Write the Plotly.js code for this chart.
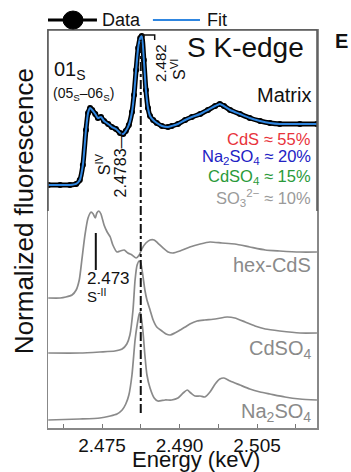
<!DOCTYPE html>
<html>
<head>
<meta charset="utf-8">
<script src="https://cdn.plot.ly/plotly-3.0.1.min.js"></script>
<style>html,body{margin:0;padding:0;background:#fff;}#chart{width:351px;height:472px;}</style>
</head>
<body>
<div id="chart"></div>
<script>
// ---- Data (energy in keV, normalized fluorescence with vertical offsets) ----
const matrixE = [2.4646,2.4669,2.4688,2.4700,2.4707,2.4713,2.4719,2.4723,2.4727,2.4731,2.4737,2.4742,2.4748,2.4754,2.4762,2.4769,2.4777,2.4785,2.4791,2.4796,2.4802,2.4808,2.4812,2.4816,2.4820,2.4824,2.4827,2.4831,2.4835,2.4839,2.4843,2.4849,2.4856,2.4866,2.4878,2.4885,2.4897,2.4911,2.4924,2.4940,2.4955,2.4969,2.4978,2.4986,2.4998,2.5017,2.5036,2.5056,2.5075,2.5094,2.5133,2.5166];
const matrixData = [6.106,6.106,6.106,6.131,6.231,6.608,7.487,7.915,8.040,7.990,7.889,7.789,7.814,7.714,7.638,7.563,7.513,7.412,7.387,7.462,7.613,7.940,8.367,8.995,9.548,9.799,9.849,9.246,8.492,8.040,7.839,7.739,7.663,7.588,7.563,7.588,7.638,7.739,7.814,7.889,7.990,8.090,8.141,8.090,7.990,7.889,7.789,7.714,7.663,7.638,7.638,7.638];
const matrixFit = [6.106,6.106,6.106,6.131,6.231,6.608,7.487,7.915,8.040,7.990,7.889,7.789,7.814,7.714,7.638,7.563,7.513,7.412,7.387,7.462,7.613,7.940,8.367,8.995,9.548,9.799,9.849,9.246,8.492,8.040,7.839,7.739,7.663,7.588,7.563,7.588,7.638,7.739,7.814,7.889,7.990,8.090,8.141,8.090,7.990,7.889,7.789,7.714,7.663,7.638,7.638,7.638];

const hexCdSE = [2.4646,2.4669,2.4680,2.4692,2.4700,2.4706,2.4711,2.4717,2.4723,2.4729,2.4733,2.4737,2.4740,2.4744,2.4748,2.4754,2.4760,2.4766,2.4771,2.4779,2.4785,2.4793,2.4800,2.4808,2.4816,2.4822,2.4827,2.4835,2.4843,2.4851,2.4858,2.4868,2.4878,2.4887,2.4901,2.4920,2.4940,2.4959,2.4982,2.5007,2.5036,2.5066,2.5094,2.5133,2.5166];
const hexCdS = [3.266,3.266,3.291,3.342,3.467,3.719,4.221,4.849,5.276,5.427,5.377,5.276,5.402,5.452,5.377,5.101,4.925,4.799,4.598,4.422,4.447,4.472,4.397,4.347,4.271,4.347,4.497,4.648,4.724,4.724,4.648,4.523,4.422,4.397,4.447,4.548,4.623,4.673,4.648,4.623,4.548,4.472,4.447,4.422,4.422];

const cdso4E = [2.4646,2.4707,2.4746,2.4775,2.4789,2.4798,2.4804,2.4810,2.4814,2.4818,2.4822,2.4825,2.4829,2.4833,2.4837,2.4843,2.4849,2.4856,2.4866,2.4874,2.4882,2.4891,2.4901,2.4911,2.4920,2.4934,2.4949,2.4969,2.4992,2.5007,2.5027,2.5046,2.5066,2.5094,2.5133,2.5166];
const cdso4 = [1.884,1.884,1.910,1.935,1.985,2.111,2.337,2.965,3.719,4.095,4.196,4.146,3.844,3.467,3.216,2.965,2.714,2.538,2.437,2.362,2.337,2.387,2.462,2.538,2.613,2.688,2.714,2.739,2.789,2.764,2.663,2.563,2.487,2.437,2.387,2.387];

const na2so4E = [2.4646,2.4707,2.4746,2.4766,2.4779,2.4789,2.4796,2.4802,2.4808,2.4814,2.4818,2.4822,2.4824,2.4825,2.4829,2.4833,2.4837,2.4843,2.4851,2.4858,2.4872,2.4885,2.4897,2.4907,2.4915,2.4922,2.4930,2.4940,2.4949,2.4959,2.4969,2.4978,2.4986,2.4998,2.5017,2.5036,2.5056,2.5075,2.5104,2.5133,2.5166];
const na2so4 = [0.201,0.226,0.251,0.302,0.352,0.452,0.603,0.829,1.332,2.211,2.588,2.864,2.915,2.864,2.462,1.834,1.332,1.005,0.754,0.678,0.704,0.704,0.754,0.879,0.955,0.879,0.804,0.804,0.779,0.905,1.106,1.231,1.256,1.181,1.080,0.980,0.905,0.854,0.779,0.729,0.704];

const tickVals = [2.475, 2.490, 2.505];
const tickText = ['2.475', '2.490', '2.505'];
const minorTickVals = [2.4675, 2.4825, 2.4975, 2.5125];
const whiteLineE = 2.4825;
const sIIE = 2.4738;
const seriesLabels = ['hex-CdS', 'CdSO<sub>4</sub>', 'Na<sub>2</sub>SO<sub>4</sub>'];
const compLabels = ['CdS ≈ 55%', 'Na<sub>2</sub>SO<sub>4</sub> ≈ 20%', 'CdSO<sub>4</sub> ≈ 15%', 'SO<sub>3</sub><sup>2−</sup> ≈ 10%'];
const compColors = ['#e8333b', '#2222c4', '#2a9a3a', '#9a9a9a'];

const FONT = 'Liberation Sans, Arial, Helvetica, sans-serif';
const grey = '#8a8a8a';

const traces = [
  {x: hexCdSE, y: hexCdS, mode: 'lines', line: {color: grey, width: 1.7, shape: 'spline', smoothing: 0.6}, showlegend: false},
  {x: cdso4E, y: cdso4, mode: 'lines', line: {color: grey, width: 1.7, shape: 'spline', smoothing: 0.6}, showlegend: false},
  {x: na2so4E, y: na2so4, mode: 'lines', line: {color: grey, width: 1.7, shape: 'spline', smoothing: 0.6}, showlegend: false},
  {x: matrixE, y: matrixData, mode: 'lines+markers', line: {color: '#000', width: 5, shape: 'spline', smoothing: 0.6}, marker: {color: '#000', size: 6}, showlegend: false},
  {x: matrixE, y: matrixFit, mode: 'lines', line: {color: '#2f86e0', width: 2, shape: 'spline', smoothing: 0.6}, showlegend: false}
];

const ann = [];
const A = (o) => ann.push(Object.assign({showarrow: false, xref: 'x', yref: 'y', xanchor: 'center', yanchor: 'middle', font: {family: FONT, size: 16, color: '#111'}}, o));

A({x: 2.5027, y: 9.57, text: 'S K-edge', font: {family: FONT, size: 28, color: '#111'}});
A({x: 2.4862, y: 9.17, text: '2.482', textangle: -90, font: {family: FONT, size: 15, color: '#111'}});
A({x: 2.4897, y: 9.02, text: 'S<sup>VI</sup>', textangle: -90, font: {family: FONT, size: 16, color: '#111'}});
A({x: 2.4653, y: 8.99, text: '01<sub>S</sub>', xanchor: 'left', font: {family: FONT, size: 20, color: '#111'}});
A({x: 2.4651, y: 8.40, text: '(05<sub>S</sub>–06<sub>S</sub>)', xanchor: 'left', font: {family: FONT, size: 14, color: '#111'}});
A({x: 2.5158, y: 8.37, text: 'Matrix', xanchor: 'right', font: {family: FONT, size: 20, color: '#111'}});
A({x: 2.4752, y: 6.63, text: 'S<sup>IV</sup>', textangle: -90, font: {family: FONT, size: 16, color: '#111'}});
A({x: 2.4785, y: 6.60, text: '2.4783—', textangle: -90, font: {family: FONT, size: 16, color: '#111'}});
const compY = [7.27, 6.80, 6.30, 5.78];
compLabels.forEach((t, i) => A({x: 2.5158, y: compY[i], text: t, xanchor: 'right', font: {family: FONT, size: 16.5, color: compColors[i]}}));
const labY = [4.10, 1.98, 0.40];
seriesLabels.forEach((t, i) => A({x: 2.5158, y: labY[i], text: t, xanchor: 'right', font: {family: FONT, size: 20, color: grey}}));
A({x: 2.4717, y: 3.76, text: '2.473', xanchor: 'left', font: {family: FONT, size: 17, color: '#111'}});
A({x: 2.4717, y: 3.34, text: 'S<sup>-II</sup>', xanchor: 'left', font: {family: FONT, size: 15, color: '#111'}});
// legend texts, panel letter, axis titles
const P = (o) => ann.push(Object.assign({showarrow: false, xref: 'paper', yref: 'paper', xanchor: 'center', yanchor: 'middle'}, o));
P({x: 0.193, y: 1.025, text: 'Data', xanchor: 'left', font: {family: FONT, size: 18, color: '#111'}});
P({x: 0.583, y: 1.025, text: 'Fit', xanchor: 'left', font: {family: FONT, size: 18, color: '#111'}});
P({x: 1.09, y: 0.972, text: '<b>E</b>', font: {family: FONT, size: 20, color: '#111'}});
P({x: -0.089, y: 0.545, text: 'Normalized fluorescence', textangle: -90, font: {family: FONT, size: 26, color: '#111'}});
P({x: 0.55, y: -0.079, text: 'Energy (keV)', font: {family: FONT, size: 22, color: '#111'}});

const shapes = [
  {type: 'line', xref: 'x', yref: 'y', x0: whiteLineE, x1: whiteLineE, y0: 0.38, y1: 9.75, line: {color: '#111', width: 2, dash: 'dashdot'}},
  {type: 'path', xref: 'x', yref: 'y', path: 'M2.4827,9.874 L2.4852,9.874 L2.4852,9.75', line: {color: '#111', width: 1.5}},
  {type: 'line', xref: 'x', yref: 'y', x0: sIIE, x1: sIIE, y0: 3.97, y1: 4.90, line: {color: '#111', width: 2}},
  {type: 'path', xref: 'paper', yref: 'paper', path: 'M0,0.545 L0,1 L1,1 L1,0.545', line: {color: '#555', width: 1.5}},
  // legend symbols
  {type: 'line', xref: 'paper', yref: 'paper', x0: 0.0, x1: 0.182, y0: 1.025, y1: 1.025, line: {color: '#000', width: 3}},
  {type: 'circle', xref: 'paper', yref: 'paper', xsizemode: 'pixel', ysizemode: 'pixel', xanchor: 0.093, yanchor: 1.025, x0: -10, x1: 10, y0: -9, y1: 9, fillcolor: '#000', line: {color: '#000', width: 1}},
  {type: 'line', xref: 'paper', yref: 'paper', x0: 0.39, x1: 0.565, y0: 1.025, y1: 1.025, line: {color: '#2f86e0', width: 2}}
];

const layout = {
  width: 351, height: 472,
  margin: {l: 48, r: 34, t: 30, b: 44},
  paper_bgcolor: '#fff', plot_bgcolor: '#fff',
  showlegend: false,
  font: {family: FONT, color: '#111'},
  xaxis: {
    range: [2.46455, 2.51661], tickmode: 'array', tickvals: tickVals, ticktext: tickText,
    ticks: 'inside', ticklen: 4, tickcolor: '#777', tickwidth: 1,
    minor: {tickmode: 'array', tickvals: minorTickVals, ticks: 'inside', ticklen: 4, tickcolor: '#777'},
    showline: true, mirror: true, linecolor: '#888', linewidth: 1.5,
    showgrid: false, zeroline: false, ticklabelstandoff: 0,
    tickfont: {family: FONT, size: 19, color: '#111'}
  },
  yaxis: {
    range: [0, 10], showticklabels: false, ticks: '', showgrid: false, zeroline: false,
    showline: true, mirror: true, linecolor: '#888', linewidth: 1.5
  },
  annotations: ann,
  shapes: shapes
};

Plotly.newPlot('chart', traces, layout, {displayModeBar: false, staticPlot: true});
</script>
</body>
</html>
